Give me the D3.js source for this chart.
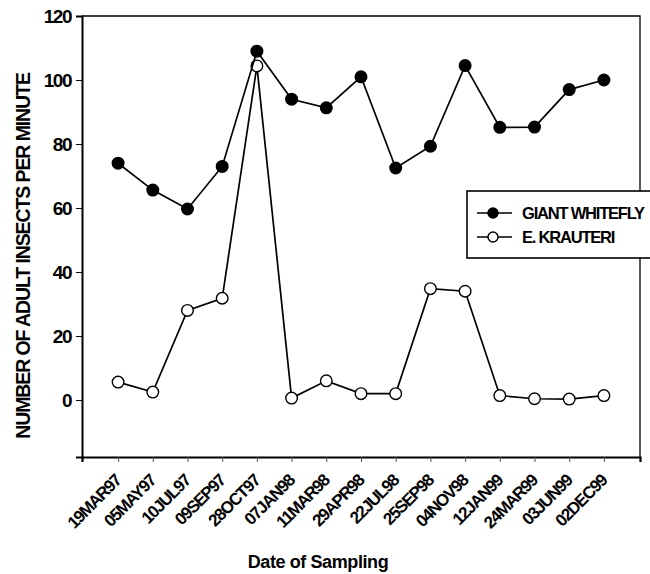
<!DOCTYPE html>
<html>
<head>
<meta charset="utf-8">
<script src="https://cdnjs.cloudflare.com/ajax/libs/d3/7.8.5/d3.min.js"></script>
<style>
  body { margin: 0; background: #fff; }
  text { font-family: "Liberation Sans", Arial, sans-serif; fill: #000; font-weight: bold; }
</style>
</head>
<body>
<div id="chart"></div>
<script>
// Sampling dates (x categories)
const dates = ["19MAR97", "05MAY97", "10JUL97", "09SEP97", "28OCT97", "07JAN98", "11MAR98",
  "29APR98", "22JUL98", "25SEP98", "04NOV98", "12JAN99", "24MAR99", "03JUN99", "02DEC99"];

// Adult insects per minute
const giantWhitefly = [74, 65.6, 59.7, 73, 109, 94, 91.3, 101, 72.5, 79.3, 104.5, 85.2, 85.3, 97, 100];
const eKrauteri = [5.6, 2.5, 28, 31.8, 104.4, 0.6, 6, 2, 2, 34.8, 34, 1.4, 0.4, 0.3, 1.4];

const yTicks = [0, 20, 40, 60, 80, 100, 120];

const width = 650;
const height = 574;
const plotLeft = 82, plotRight = 640, plotTop = 16, plotBottom = 457;

const svg = d3.select("#chart")
  .append("svg")
  .attr("width", width)
  .attr("height", height);

const xScale = d3.scalePoint()
  .domain(dates)
  .range([plotLeft, plotRight])
  .padding(1.04);

const yScale = d3.scaleLinear()
  .domain([-17.8, 120])
  .range([plotBottom, plotTop]);

// frame (top and right)
svg.append("path")
  .attr("d", `M${plotLeft},${plotTop}H${plotRight}V${plotBottom}`)
  .attr("fill", "none")
  .attr("stroke", "#000")
  .attr("stroke-width", 1.3);

// y axis
const yAxis = d3.axisLeft(yScale).tickValues(yTicks).tickSize(6).tickPadding(5);
const gy = svg.append("g")
  .attr("transform", `translate(${plotLeft},0)`)
  .call(yAxis);
gy.select(".domain").attr("stroke-width", 2);
gy.selectAll(".tick line").attr("stroke-width", 1);
gy.selectAll(".tick text")
  .style("font-size", "19px")
  .style("letter-spacing", "-1.5px");

// x axis
const xAxis = d3.axisBottom(xScale).tickSize(5).tickPadding(4);
const gx = svg.append("g")
  .attr("transform", `translate(0,${plotBottom})`)
  .call(xAxis);
gx.select(".domain").attr("stroke-width", 2.2);
gx.selectAll(".tick line").attr("stroke", "#555");
gx.selectAll(".tick text")
  .style("font-size", "17px")
  .style("letter-spacing", "-1.3px")
  .attr("text-anchor", "end")
  .attr("dx", "-15")
  .attr("dy", "11")
  .attr("transform", "rotate(-45)");

// axis titles
svg.append("text")
  .attr("transform", "translate(30,256) rotate(-90)")
  .attr("text-anchor", "middle")
  .style("font-size", "19.5px")
  .style("letter-spacing", "-1.1px")
  .text("NUMBER OF ADULT INSECTS PER MINUTE");

svg.append("text")
  .attr("x", 318)
  .attr("y", 568)
  .attr("text-anchor", "middle")
  .style("font-size", "18px")
  .style("letter-spacing", "-0.4px")
  .text("Date of Sampling");

// series
const series = [
  { name: "GIANT WHITEFLY", values: giantWhitefly, fill: "#000" },
  { name: "E. KRAUTERI", values: eKrauteri, fill: "#fff" }
];

const line = d3.line()
  .x((d, i) => xScale(dates[i]))
  .y(d => yScale(d));

// draw open series first so the filled one sits on top where they meet
series.slice().reverse().forEach(s => {
  svg.append("path")
    .datum(s.values)
    .attr("fill", "none")
    .attr("stroke", "#000")
    .attr("stroke-width", 1.7)
    .attr("d", line);
  svg.selectAll(null)
    .data(s.values)
    .enter()
    .append("circle")
    .attr("cx", (d, i) => xScale(dates[i]))
    .attr("cy", d => yScale(d))
    .attr("r", 5.8)
    .attr("fill", s.fill)
    .attr("stroke", "#000")
    .attr("stroke-width", 1.4);
});

// legend
const legend = svg.append("g").attr("transform", "translate(467,191)");
legend.append("rect")
  .attr("width", 190)
  .attr("height", 67)
  .attr("fill", "#fff")
  .attr("stroke", "#000")
  .attr("stroke-width", 1.6);
series.forEach((s, i) => {
  const y = 22 + i * 24;
  legend.append("line")
    .attr("x1", 10).attr("x2", 45)
    .attr("y1", y).attr("y2", y)
    .attr("stroke", "#000")
    .attr("stroke-width", 1.6);
  legend.append("circle")
    .attr("cx", 26).attr("cy", y)
    .attr("r", 5)
    .attr("fill", s.fill)
    .attr("stroke", "#000")
    .attr("stroke-width", 1.4);
  legend.append("text")
    .attr("x", 55).attr("y", y + 6)
    .style("font-size", "16.5px")
    .style("letter-spacing", "-1.2px")
    .text(s.name);
});
</script>
</body>
</html>
